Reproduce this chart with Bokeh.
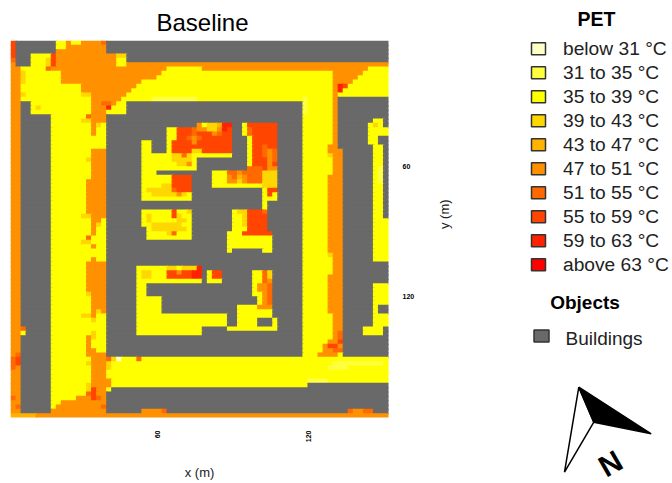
import math
from bokeh.embed import file_html
from bokeh.layouts import row
from bokeh.models import FixedTicker, LinearAxis, Range1d
from bokeh.plotting import figure
from bokeh.resources import INLINE

TITLE = "Baseline"
LEGEND_TITLE = "PET"
PET_LABELS = ["below 31 °C", "31 to 35 °C", "35 to 39 °C", "39 to 43 °C", "43 to 47 °C",
              "47 to 51 °C", "51 to 55 °C", "55 to 59 °C", "59 to 63 °C", "above 63 °C"]
PET_KEYS = list("abcdefghij")
PET_COLORS = ["#FFFFC8", "#FFFF40", "#FFFF00", "#FFD700", "#FFB300",
              "#FF9000", "#FF6A00", "#FF4500", "#FF2200", "#FF0000"]
BUILDING_COLOR = "#696969"
OBJECTS_TITLE = "Objects"
OBJECT_LABEL = "Buildings"
X_TICKS = [60, 120]
Y_TICKS = [60, 120]
CELL_M = 2

# PET class map: one line per raster row, "<start column><class>" runs; G = building
GRID = [
 "0h 1G 9c 11f 12c 14f 18g 19G",
 "0h 1G 9c 11f 19G",
 "0h 1G 9f 19G",
 "0h 1G 4c 8h 9f 21d 23G",
 "0g 1G 4c 7d 8h 9f 21c 23G",
 "0f 1G 4c 7d 8h 9f 21c 23f",
 "0f 2c 7g 8f 31c 38f 71c",
 "0f 2d 3c 10f 30c 64f 70c",
 "0f 2d 3c 10f 29c 64f 69c",
 "0f 2d 3c 10f 26c 64f 68c",
 "0f 2c 14f 25c 64f 65i 66h 67c",
 "0f 2c 14f 24c 64f 65i 66c",
 "0f 2d 3c 14d 16f 23c 64f 65c",
 "0f 2c 16f 22c 28b 37c 58b 59c 64f 65G",
 "0f 2G 4c 16f 18g 20f 21c 23G 58b 59c 64f 65G",
 "0f 2G 4c 5d 6c 16f 19i 20c 23G 58b 59c 64f 65G",
 "0f 2G 4c 16f 19c 23G 58b 59c 64f 65G",
 "0f 2G 8c 15g 16f 19G 58c 64f 65G",
 "0f 2G 8c 14d 16f 19G 58c 64f 65G 72c 74G",
 "0f 2G 8c 16f 17d 18c 19G 37f 38c 39d 41e 42i 44G 46c 47h 53G 58c 64f 65G 71c 72d 73c 74G",
 "0f 2G 8c 16f 17c 19G 31c 33h 36g 37f 39d 41f 42i 43h 44G 46c 47g 48h 53G 58c 64f 65G 71c",
 "0f 2G 8c 16f 17c 19G 31c 33h 36g 37h 40f 41g 42h 44G 46c 47g 48h 53G 58c 64f 65G 71c",
 "0f 2G 8c 19G 31c 33h 35g 36f 37g 38h 44G 47c 48h 53G 58c 64f 65G 71c 73G",
 "0f 2G 8c 19G 26c 28G 31c 32h 36f 37h 44G 47c 48h 53G 58c 64f 65G 71c 73G",
 "0f 2G 8c 19G 26c 28G 31c 32h 44G 47c 48h 50g 51h 53G 58c 63f 65G 72c 74G",
 "0f 2G 8c 16f 19G 26c 28G 31c 32h 36d 38h 44G 47c 48h 50g 51f 52g 53G 58c 63f 66G 72c 74G",
 "0f 2G 8c 16f 19G 26c 32d 34g 35d 36c 44G 47c 48h 50g 51f 52g 53G 58c 63d 64f 66G 72c 74G",
 "0f 2G 8c 15d 16f 19G 26c 32d 36c 37G 47c 48h 51f 52g 53G 58c 63c 64f 66G 72c 74G",
 "0f 2G 8c 16f 19G 26c 33d 35f 36c 37G 47c 48h 51f 52h 53G 58c 64f 66G 72c 74G",
 "0f 2G 8c 16f 19G 26c 37G 47g 50h 51f 53G 58c 64f 66G 72c 73b 74G",
 "0f 2G 8c 16f 19G 26c 29G 40c 43g 45f 46g 50d 53G 58c 64f 66G 72c 73b 74G",
 "0f 2G 8c 16f 19G 26c 32h 36G 40c 43f 44g 45e 46f 47g 50d 53G 58c 63f 66G 72c 73b 74G",
 "0f 2G 8c 15f 19G 26c 32h 36G 40c 43f 45d 46f 47g 50d 53G 58c 63f 66G 72c 73b 74G",
 "0f 2G 8c 15f 19G 26c 30d 32h 36G 40c 50d 53G 58c 63f 66G 72c 74G",
 "0f 2G 8c 15f 19G 26c 27d 32g 33h 36G 50c 51h 53G 58c 63f 66G 72c 74G",
 "0f 2G 8c 15f 19G 26c 28d 33f 34d 35c 36G 50c 51h 52c 53G 58c 63f 66G 72c 74G",
 "0f 2G 8c 15f 19G 26c 36G 50c 53G 58c 63f 66G 72c 74G",
 "0f 2G 8c 15f 19G 50c 51G 58c 63f 66G 72c 74G",
 "0f 2G 8c 15f 19G 50c 51G 58c 63f 66G 72c 74G",
 "0f 2G 8c 15f 19G 26c 32h 33c 35d 36G 44c 45d 47h 50g 51G 58c 63f 66G 72c 74G",
 "0f 2G 8c 14d 16f 19G 26c 27d 28c 32h 33d 34c 36G 44c 46d 47h 51G 58c 63f 66G 72c 74G",
 "0f 2G 8c 16f 18c 19G 26c 27d 28c 33d 35c 36G 44c 46d 47h 51G 58c 63f 66G 72c",
 "0f 2G 8c 16f 17d 18c 19G 26c 28d 34c 36G 44c 46d 47h 51G 58c 63f 66G 72c",
 "0f 2G 8c 16f 17c 19G 27c 28d 35c 36G 44c 47h 51G 58c 63f 66G 72c",
 "0f 2G 8c 16f 17c 19G 27c 31d 32g 33c 36G 43c 46h 52G 58c 63f 66G 72c",
 "0f 2G 8c 15g 16c 19G 27c 36G 43c 52G 58c 63f 66G 72c",
 "0f 2G 8c 14d 16c 19G 43c 52G 58c 63f 66G 72c",
 "0f 2G 8c 16f 17c 19G 43c 52G 58c 63f 66G 72c",
 "0f 2G 8c 19G 43c 44G 50c 52G 58c 63f 66G 72c",
 "0f 2G 8c 19G 58c 63d 64f 66G 72c",
 "0f 2G 8c 16f 17c 19G 58c 64f 66G 72c",
 "0f 2G 8c 15f 19G 58c 64f 66G",
 "0f 2G 8c 15f 19G 25c 31d 33c 34d 37i 38G 58c 64f 66G",
 "0f 2G 8c 15f 19G 25c 26d 28c 31h 33f 34h 36i 38G 39c 40h 42G 48c 50g 51d 52G 58c 64f 66G",
 "0f 2G 8c 15f 19G 25c 26d 28c 31h 36i 38G 39c 40h 42G 48c 50g 51d 52G 58c 63f 66G",
 "0f 2G 8c 15f 19G 25c 38G 39c 42G 48c 50g 51f 52G 58c 63f 66G",
 "0f 2G 8c 15f 19G 25c 27G 48c 49f 51g 52G 58c 63f 66G 72c",
 "0f 2G 8c 15f 19G 25c 27G 48c 49f 51g 52G 58c 63f 66G 72c",
 "0f 2G 8c 15d 16f 19G 25c 27G 48c 50f 51g 52G 58c 63f 66G 72c",
 "0f 2G 8c 16f 19G 25c 30G 49c 50f 51g 52G 58c 63f 66G 72c",
 "0f 2G 8c 16f 19G 25c 30G 49c 50f 51g 52G 58c 63f 66G 72c",
 "0f 2G 8c 16f 19G 25c 30G 45c 49f 52G 58c 63f 66G 72c 73G",
 "0f 2G 8c 16f 17d 18f 19G 25c 30G 45c 52G 58c 63f 66G 72c 73G",
 "0f 2G 8c 14d 16f 17c 19G 25c 43G 45c 52G 58c 64f 66G 72c",
 "0f 2G 8c 16d 17c 19G 25c 43G 45c 49G 52c 53G 58c 64f 66G 72c",
 "0f 2G 8c 19G 25c 43G 45c 49G 52c 53G 58c 64f 66G 72c",
 "0f 2g 3G 8c 19G 25c 38G 43c 53G 58c 64f 66G 70c 74G",
 "0f 2c 3G 8c 16d 17c 19G 25c 38G 58c 64f 65g 66G 70c 74G",
 "0f 2G 8c 15f 16d 17c 19G 58c 64f 65g 66G",
 "0f 2G 8c 15f 16c 19G 58c 63f 65h 66G",
 "0f 2G 8c 15f 16c 19G 58c 62f 63h 65f 66G",
 "0f 2G 8c 15f 17c 19G 58c 62f 64g 66G",
 "0f 1g 2G 8c 15f 19G 58c 61f 65c 66G",
 "0g 1h 2G 8c 16f 19g 20d 21a 22c 25g 26c",
 "0g 1h 2G 8c 15d 16f 19d 20c 64b 74c",
 "0g 1f 2G 8c 16f 19d 20c 63b 67c",
 "0f 2G 8c 16f 19c",
 "0f 2G 8c 16f 19c",
 "0f 2G 8c 16f 20c 59b 63c",
 "0f 2G 8c 15d 16f 20c 59G",
 "0f 2G 8c 15d 16h 17f 19c 20G",
 "0f 2G 8c 15g 16h 17f 19G",
 "0g 1f 2G 8c 13f 16h 17g 18f 19G",
 "0f 2G 8c 10f 19G",
 "0f 1g 2G 8c 9f 18g 19G",
 "0f 2G 8f 19G 26f 30g 31G 67g 68f 70g 72G",
 "0e 5f",
]

N_COLS = 75

# page geometry (pixels)
FRAME_L, FRAME_T, FRAME_W, FRAME_H = 10, 40, 378, 377
LEFT_W, TOTAL_H, RIGHT_W = 490, 483, 182
OVERLAP = 0.6

color_of = dict(zip(PET_KEYS, PET_COLORS))
color_of["G"] = BUILDING_COLOR

x_start = 60 - (157 - FRAME_L) / (151 / 60)
x_end = x_start + FRAME_W / (151 / 60)
y_top = 60 - (166 - FRAME_T) / (130 / 60)
y_bottom = y_top + FRAME_H / (130 / 60)

p = figure(width=LEFT_W, height=TOTAL_H, output_backend="svg", toolbar_location=None,
           x_range=Range1d(x_start, x_end), y_range=Range1d(y_bottom, y_top),
           x_axis_location=None, y_axis_location=None, frame_align=False,
           min_border_left=FRAME_L, min_border_right=LEFT_W - FRAME_L - FRAME_W,
           min_border_top=FRAME_T, min_border_bottom=TOTAL_H - FRAME_T - FRAME_H)
p.grid.visible = False
p.outline_line_color = None
p.background_fill_color = "white"

left, right, top, bottom, colors = [], [], [], [], []
for r, line in enumerate(GRID):
    runs = [(int(t[:-1]), t[-1]) for t in line.split()]
    for i, (start, key) in enumerate(runs):
        stop = runs[i + 1][0] if i + 1 < len(runs) else N_COLS
        left.append(x_start + start * CELL_M)
        right.append(x_start + stop * CELL_M + OVERLAP)
        top.append(y_top + r * CELL_M)
        bottom.append(y_top + (r + 1) * CELL_M + OVERLAP)
        colors.append(color_of[key])
p.quad(left=left, right=right, top=top, bottom=bottom, fill_color=colors, line_color=None)

xax = LinearAxis(ticker=FixedTicker(ticks=X_TICKS), axis_label="x (m)")
yax = LinearAxis(ticker=FixedTicker(ticks=Y_TICKS), axis_label="y (m)")
for ax in (xax, yax):
    ax.axis_line_color = None
    ax.major_tick_line_color = None
    ax.minor_tick_line_color = None
    ax.major_label_text_font = "Liberation Sans"
    ax.major_label_text_font_size = "7px"
    ax.major_label_text_font_style = "bold"
    ax.major_label_text_color = "black"
    ax.axis_label_text_font = "Liberation Sans"
    ax.axis_label_text_font_size = "13px"
    ax.axis_label_text_font_style = "normal"
    ax.axis_label_text_color = "#222222"
    ax.axis_label_text_line_height = 0.4
xax.major_label_orientation = math.pi / 2
xax.major_label_standoff = 7
xax.axis_label_standoff = 20
yax.major_label_standoff = 8
yax.axis_label_standoff = 27
yax.axis_label_orientation = math.pi / 2
p.add_layout(xax, "below")
p.add_layout(yax, "right")

p.title.text = TITLE
p.title.text_font = "Liberation Sans"
p.title.text_font_size = "24px"
p.title.text_font_style = "normal"
p.title.align = "left"
p.title.offset = 146
p.title.text_color = "black"

# legend panel: ranges are page pixels
q = figure(width=RIGHT_W, height=TOTAL_H, output_backend="svg", toolbar_location=None,
           x_range=Range1d(LEFT_W, LEFT_W + RIGHT_W), y_range=Range1d(TOTAL_H, 0),
           x_axis_location=None, y_axis_location=None, frame_align=False,
           min_border_left=0, min_border_right=0, min_border_top=0, min_border_bottom=0)
q.grid.visible = False
q.outline_line_color = None

row_y = [48.3 + 24 * i for i in range(len(PET_LABELS))]
q.rect(x=[538] * len(PET_LABELS), y=row_y, width=14, height=12, fill_color=PET_COLORS,
       line_color="#333333", line_width=1.5)
q.text(x=[562.5] * len(PET_LABELS), y=row_y, text=PET_LABELS, text_font_size="19.2px",
       text_font={"value": "Liberation Sans"}, text_baseline="middle", text_color="#222222")
q.text(x=[596], y=[18], text=[LEGEND_TITLE], text_font_size="19.5px", text_font={"value": "Liberation Sans"},
       text_font_style="bold", text_align="center", text_baseline="middle", text_color="black")
q.text(x=[584.5], y=[302], text=[OBJECTS_TITLE], text_font_size="19px", text_font={"value": "Liberation Sans"},
       text_font_style="bold", text_align="center", text_baseline="middle", text_color="black")
q.rect(x=[541], y=[335.5], width=15, height=12, fill_color=BUILDING_COLOR, line_color="#333333", line_width=1.5)
q.text(x=[565], y=[338], text=[OBJECT_LABEL], text_font_size="19px", text_font={"value": "Liberation Sans"},
       text_baseline="middle", text_color="#222222")

# north arrow
q.patch(x=[578.3, 593.3, 564], y=[386.7, 421.7, 471.7], fill_color="white", line_color="black", line_width=1.5)
q.patch(x=[578.3, 650.7, 593.3], y=[386.7, 433.3, 421.7], fill_color="black", line_color="black", line_width=1.5)
q.text(x=[610], y=[463], text=["N"], angle=[math.radians(30)], text_font_size="30px",
       text_font={"value": "Liberation Sans"}, text_font_style="bold", text_align="center",
       text_baseline="middle", text_color="black")

open("out.html", "w").write(file_html(row(p, q), INLINE))
